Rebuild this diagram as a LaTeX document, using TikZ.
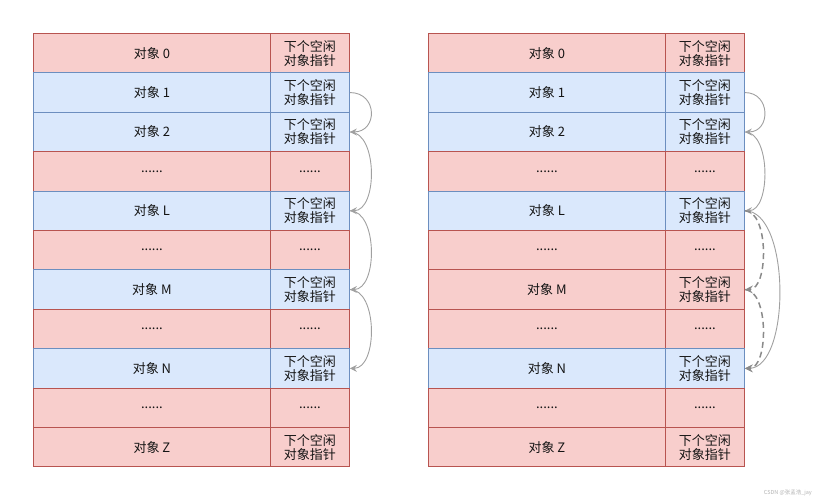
\documentclass[tikz,border=0pt]{standalone}
\usepackage{fontspec}
\setmainfont{Noto Sans CJK SC}
\usetikzlibrary{arrows.meta}
\definecolor{redfill}{HTML}{F8CECC}
\definecolor{redline}{HTML}{B85450}
\definecolor{bluefill}{HTML}{DAE8FC}
\definecolor{blueline}{HTML}{6C8EBF}
\definecolor{arrowc}{HTML}{A0A0A0}
\definecolor{dashc}{HTML}{8A8A8A}
\newcommand\ptrP{下个空闲\\对象指针}
\newcommand\ptrD{......}
\tikzset{
  cellbase/.style={rectangle, minimum height=39.4pt, inner sep=0pt, line width=0.9pt,
    anchor=north west, align=center, font=\fontsize{13}{14}\selectfont, text=black!92},
  objcell/.style={cellbase, minimum width=237pt},
  ptrcell/.style={cellbase, minimum width=79pt},
  redcell/.style={fill=redfill, draw=redline},
  bluecell/.style={fill=bluefill, draw=blueline},
  conn/.style={draw=arrowc, line width=0.9pt, -{Stealth[length=7pt,width=7pt,inset=2.5pt,fill=arrowc]}},
  dconn/.style={draw=dashc, line width=1.5pt, dash pattern=on 6pt off 4pt,
    -{Stealth[length=8pt,width=8pt,inset=3pt,fill=dashc]}},
}
\begin{document}
\begin{tikzpicture}[x=1pt,y=-1pt]
\useasboundingbox (0,0) rectangle (816,500);
\foreach \i/\lab/\ls/\p/\rs in {
  0/对象 0/redcell/P/redcell,
  1/对象 1/bluecell/P/bluecell,
  2/对象 2/bluecell/P/bluecell,
  3/\ptrD/redcell/D/redcell,
  4/对象 L/bluecell/P/bluecell,
  5/\ptrD/redcell/D/redcell,
  6/对象 M/bluecell/P/redcell,
  7/\ptrD/redcell/D/redcell,
  8/对象 N/bluecell/P/bluecell,
  9/\ptrD/redcell/D/redcell,
  10/对象 Z/redcell/P/redcell}{
  \node[objcell,\ls] (lo\i) at (33, 33+39.4*\i) {\lab};
  \node[ptrcell,\ls] (lp\i) at (270, 33+39.4*\i) {\csname ptr\p\endcsname};
  \node[objcell,\rs] (ro\i) at (428, 33+39.4*\i) {\lab};
  \node[ptrcell,\rs] (rp\i) at (665, 33+39.4*\i) {\csname ptr\p\endcsname};
}
% left table connectors
\draw[conn] (lp1.east) .. controls +(28,0) and +(28,0) .. (lp2.east);
\draw[conn] (lp2.east) .. controls +(28,0) and +(28,0) .. (lp4.east);
\draw[conn] (lp4.east) .. controls +(28,0) and +(28,0) .. (lp6.east);
\draw[conn] (lp6.east) .. controls +(28,0) and +(28,0) .. (lp8.east);
% right table connectors
\draw[conn] (rp1.east) .. controls +(26,0) and +(26,0) .. (rp2.east);
\draw[conn] (rp2.east) .. controls +(26,0) and +(26,0) .. (rp4.east);
\draw[conn] (rp4.east) .. controls +(46,0) and +(46,0) .. (rp8.east);
\draw[dconn] (rp4.east) .. controls +(24,0) and +(24,0) .. (rp6.east);
\draw[dconn] (rp6.east) .. controls +(24,0) and +(24,0) .. (rp8.east);
\node[font=\fontsize{5.5}{6}\selectfont, text=black!30, anchor=east, inner sep=0pt] (wm) at (812,493) {CSDN @张孟浩\_jay};
\end{tikzpicture}
\end{document}
